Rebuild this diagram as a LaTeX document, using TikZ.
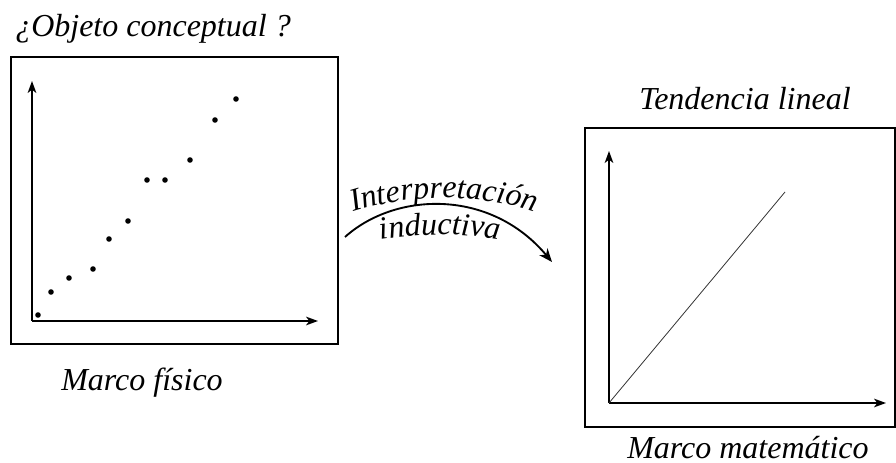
\documentclass[tikz,border=0pt]{standalone}
\usepackage{fontspec}
\setmainfont{Liberation Serif}
\newfontface\arcitfont{Liberation Serif Italic}
\usetikzlibrary{arrows.meta,decorations.text}
\newcommand\arcfont{\fontsize{24}{28}\selectfont\itshape}
\tikzset{frame/.style={line width=1.1pt},axis/.style={line width=1.1pt,-{Stealth[length=9pt,width=6.5pt,inset=2.5pt]}},point/.style={circle,fill=black,inner sep=0pt,minimum size=4.2pt},caption/.style={inner sep=0pt,anchor=base,font=\arcfont},curvetext/.style={decoration={text along path,text align=center,text={#1}},decorate}}

\begin{document}
\begin{tikzpicture}[x=0.75pt,y=-0.75pt]
\path[use as bounding box] (0,0) rectangle (896,463);
\node[caption] (title) at (153.00000,37.00000) {¿Objeto conceptual ?};
\draw[frame] (11.00000,57.00000) rectangle (338.00000,344.00000);
\coordinate (o1) at (32.00000,321.00000);
\coordinate (y1) at (32.00000,81.00000);
\coordinate (x1) at (318.00000,321.00000);
\draw[axis] (o1) -- (y1);
\draw[axis] (o1) -- (x1);
\node[point] (p1) at (38.00000,315.00000) {};
\node[point] (p2) at (51.00000,292.00000) {};
\node[point] (p3) at (69.00000,278.00000) {};
\node[point] (p4) at (93.00000,269.00000) {};
\node[point] (p5) at (109.00000,239.00000) {};
\node[point] (p6) at (128.00000,221.00000) {};
\node[point] (p7) at (147.00000,180.00000) {};
\node[point] (p8) at (165.00000,180.00000) {};
\node[point] (p9) at (190.00000,160.00000) {};
\node[point] (p10) at (215.00000,120.00000) {};
\node[point] (p11) at (236.00000,99.00000) {};
\node[caption] (fisico) at (142.00000,390.00000) {Marco físico};
\coordinate (a1) at (345.00000,237.00000);
\coordinate (a2) at (552.00000,262.00000);
\draw[line width=1.4pt,-{Stealth[length=10pt,width=8pt,inset=3pt]}] (a1) .. controls (395.00000,192.00000) and (490.00000,188.00000) .. (a2);
\begin{scope}[execute at begin scope={\arcitfont\fontsize{24}{28}\selectfont}]
\path[curvetext={Interpretación}] (350.00000,213.00000) .. controls (410.00000,193.00000) and (480.00000,193.00000) .. (538.00000,213.00000);
\path[curvetext={inductiva}] (378.00000,240.00000) .. controls (420.00000,233.00000) and (460.00000,233.00000) .. (502.00000,240.00000);
\end{scope}
\node[caption] (tendencia) at (745.00000,110.00000) {Tendencia lineal};
\draw[frame] (585.00000,128.00000) rectangle (895.00000,427.00000);
\coordinate (o2) at (609.00000,403.00000);
\coordinate (y2) at (609.00000,151.00000);
\coordinate (x2) at (886.00000,403.00000);
\coordinate (t2) at (785.00000,192.00000);
\draw[axis] (o2) -- (y2);
\draw[axis] (o2) -- (x2);
\draw[line width=.6pt,black!80] (o2) -- (t2);
\node[caption] (matematico) at (748.00000,458.00000) {Marco matemático};
\end{tikzpicture}
\end{document}
